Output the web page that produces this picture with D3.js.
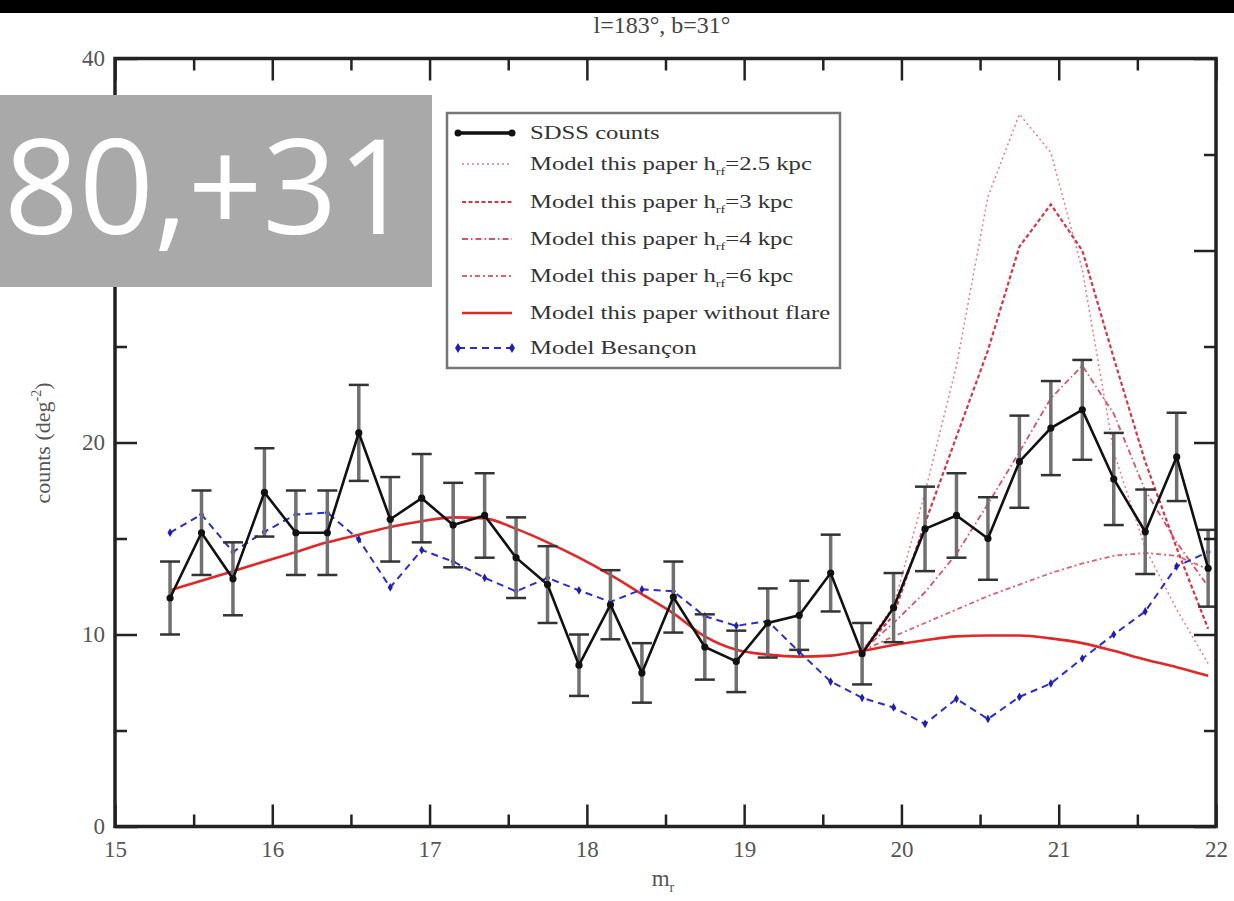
<!DOCTYPE html>
<html><head><meta charset="utf-8">
<script src="https://cdn.jsdelivr.net/npm/d3@7"></script>
<style>
html,body{margin:0;padding:0;background:#fff;}
svg{display:block;}
</style></head>
<body>
<svg id="c" width="1234" height="901"></svg>
<script>
// ---------- data ----------
const mags = [15.35,15.55,15.75,15.95,16.15,16.35,16.55,16.75,16.95,17.15,17.35,17.55,17.75,17.95,18.15,18.35,18.55,18.75,18.95,19.15,19.35,19.55,19.75,19.95,20.15,20.35,20.55,20.75,20.95,21.15,21.35,21.55,21.75,21.95];
const sdssCounts = [11.9,15.3,12.9,17.4,15.3,15.3,20.5,16.0,17.1,15.7,16.2,14.0,12.6,8.4,11.55,8.0,11.95,9.35,8.6,10.6,11.0,13.2,9.0,11.4,15.5,16.2,15.0,19.0,20.75,21.7,18.1,15.35,19.25,13.45];
const sdssErrors = [1.9,2.2,1.9,2.3,2.2,2.2,2.5,2.2,2.3,2.2,2.2,2.1,2.0,1.6,1.8,1.55,1.85,1.7,1.6,1.8,1.8,2.0,1.6,1.8,2.2,2.2,2.15,2.4,2.45,2.6,2.4,2.2,2.3,2.0];
const besancon = [15.3,16.25,14.3,15.35,16.25,16.35,14.95,12.45,14.4,13.8,12.95,12.25,12.95,12.3,11.7,12.35,12.25,10.95,10.45,10.7,9.1,7.55,6.7,6.2,5.35,6.65,5.6,6.75,7.45,8.75,10.0,11.2,13.55,14.3];
const noFlare = [12.3,12.8,13.3,13.8,14.3,14.8,15.2,15.6,15.9,16.1,16.05,15.5,14.8,14.0,13.1,12.1,11.1,9.9,9.2,8.95,8.85,8.9,9.15,9.45,9.7,9.9,9.95,9.95,9.8,9.55,9.15,8.7,8.3,7.85];
const flareMags = [19.75,19.95,20.15,20.35,20.55,20.75,20.95,21.15,21.35,21.55,21.75,21.95];
const flare25 = [9.15,11.5,17.4,24.0,32.8,37.1,35.1,29.0,19.5,14.5,11.3,8.5];
const flare3  = [9.15,11.0,15.8,20.3,24.8,30.2,32.4,30.0,24.4,19.0,14.5,10.3];
const flare4  = [9.15,10.6,12.2,14.2,16.8,19.5,22.3,24.0,21.5,17.5,14.8,12.5];
const flare6  = [9.15,9.9,10.6,11.3,12.0,12.6,13.2,13.7,14.1,14.25,14.1,13.4];
const xTicks = [15,16,17,18,19,20,21,22];
const yTicks = [0,10,20,30,40];
const yTicksHidden = [30]; // covered by the grey overlay box in the reference
const legendLabels = ["SDSS counts","Model this paper |=2.5 kpc","Model this paper |=3 kpc","Model this paper |=4 kpc","Model this paper |=6 kpc","Model this paper without flare","Model Besançon"];
const titleText = "l=183°, b=31°";
const overlayText = "80,+31";

// ---------- layout ----------
const SERIF = "'Liberation Serif','Times New Roman',serif";
const L=115, R=1216, T=58.5, B=826.5;
const x = d3.scaleLinear().domain([15,22]).range([L,R]);
const y = d3.scaleLinear().domain([0,40]).range([B,T]);
const svg = d3.select("#c");

// title
svg.append("text").attr("x",662).attr("y",33).attr("text-anchor","middle")
  .style("font-family",SERIF).style("font-size","24px").attr("fill","#444").text(titleText);

// clip
svg.append("clipPath").attr("id","clip").append("rect").attr("x",L).attr("y",T).attr("width",R-L).attr("height",B-T);
const plot = svg.append("g").attr("clip-path","url(#clip)");

// ---------- series ----------
const lineXY = (xs) => d3.line().x((d,i)=>x(xs[i])).y(d=>y(d));

const flareStyles = [
  {data:flare25, color:"#f07888", w:1.5, dash:"2,3"},
  {data:flare3,  color:"#d8344a", w:2.2, dash:"4,2.5"},
  {data:flare4,  color:"#e0506a", w:1.8, dash:"6,3,1.5,3"},
  {data:flare6,  color:"#e0606e", w:1.8, dash:"5,3,2,3"}
];
flareStyles.forEach(s=>{
  plot.append("path").datum(s.data).attr("d",lineXY(flareMags))
    .attr("fill","none").attr("stroke",s.color).attr("stroke-width",s.w).attr("stroke-dasharray",s.dash);
});

// no-flare solid
plot.append("path").datum(noFlare).attr("d",lineXY(mags).curve(d3.curveMonotoneX))
  .attr("fill","none").attr("stroke","#e02828").attr("stroke-width",2.6);

// Besancon
plot.append("path").datum(besancon).attr("d",lineXY(mags))
  .attr("fill","none").attr("stroke","#2a2ad8").attr("stroke-width",2).attr("stroke-dasharray","7,5");
plot.selectAll(".bm").data(besancon).enter().append("path")
  .attr("d",d3.symbol(d3.symbolDiamond,22))
  .attr("transform",(d,i)=>`translate(${x(mags[i])},${y(d)})`)
  .attr("fill","#1e1eb4");

// SDSS error bars
const eb = plot.append("g");
mags.forEach((m,i)=>{
  const cx=x(m), y1=y(sdssCounts[i]+sdssErrors[i]), y2=y(sdssCounts[i]-sdssErrors[i]);
  eb.append("line").attr("x1",cx).attr("x2",cx).attr("y1",y1).attr("y2",y2).attr("stroke","#707070").attr("stroke-width",3.5);
  [y1,y2].forEach(yy=>eb.append("line").attr("x1",cx-10).attr("x2",cx+10).attr("y1",yy).attr("y2",yy).attr("stroke","#333").attr("stroke-width",2.5));
});
plot.append("path").datum(sdssCounts).attr("d",lineXY(mags))
  .attr("fill","none").attr("stroke","#111").attr("stroke-width",2.6);
plot.selectAll(".sm").data(sdssCounts).enter().append("circle")
  .attr("cx",(d,i)=>x(mags[i])).attr("cy",d=>y(d)).attr("r",3.6).attr("fill","#111");

// ---------- axes ----------
const axG = svg.append("g");
function styleAxis(g){ g.select(".domain").remove(); g.selectAll("line").attr("stroke","#222").attr("stroke-width",2.5); g.selectAll("text").style("font-family",SERIF).style("font-size","23px").attr("fill","#555"); }
const minorX = d3.range(15.5,22,1), minorY = d3.range(5,40,10);
axG.append("g").attr("transform",`translate(0,${B})`).call(d3.axisBottom(x).tickValues(xTicks).tickFormat(d3.format("d")).tickSize(-22).tickPadding(14)).call(styleAxis);
axG.append("g").attr("transform",`translate(0,${B})`).call(d3.axisBottom(x).tickValues(minorX).tickFormat("").tickSize(-12)).call(styleAxis);
axG.append("g").attr("transform",`translate(0,${T})`).call(d3.axisTop(x).tickValues(xTicks).tickFormat("").tickSize(-22)).call(styleAxis);
axG.append("g").attr("transform",`translate(0,${T})`).call(d3.axisTop(x).tickValues(minorX).tickFormat("").tickSize(-12)).call(styleAxis);
axG.append("g").attr("transform",`translate(${L},0)`).call(d3.axisLeft(y).tickValues(yTicks).tickFormat(d=>yTicksHidden.includes(d)?"":d3.format("d")(d)).tickSize(-22).tickPadding(10)).call(styleAxis);
axG.append("g").attr("transform",`translate(${L},0)`).call(d3.axisLeft(y).tickValues(minorY).tickFormat("").tickSize(-12)).call(styleAxis);
axG.append("g").attr("transform",`translate(${R},0)`).call(d3.axisRight(y).tickValues(yTicks).tickFormat("").tickSize(-22)).call(styleAxis);
axG.append("g").attr("transform",`translate(${R},0)`).call(d3.axisRight(y).tickValues(minorY).tickFormat("").tickSize(-12)).call(styleAxis);
svg.append("rect").attr("x",L).attr("y",T).attr("width",R-L).attr("height",B-T).attr("fill","none").attr("stroke","#222").attr("stroke-width",3.5);

// axis labels
const xl = svg.append("text").attr("x",663).attr("y",886).attr("text-anchor","middle").style("font-family",SERIF).style("font-size","23px").attr("fill","#555");
xl.append("tspan").text("m");
xl.append("tspan").attr("dy",6).style("font-size","14px").text("r");
const yl = svg.append("text").attr("transform","translate(50,443) rotate(-90)").attr("text-anchor","middle").style("font-family",SERIF).style("font-size","22px").attr("fill","#555");
yl.append("tspan").text("counts (deg");
yl.append("tspan").attr("dy",-9).style("font-size","14px").text("-2");
yl.append("tspan").attr("dy",9).text(")");

// ---------- legend ----------
const lg = svg.append("g");
lg.append("rect").attr("x",447).attr("y",113).attr("width",393).attr("height",255).attr("fill","#fff").attr("stroke","#777").attr("stroke-width",2.5);
const rowsY = [133,164,202,239,276,313,348];
const sx1=458, sx2=512, tx=530;
lg.append("line").attr("x1",sx1).attr("x2",sx2).attr("y1",rowsY[0]).attr("y2",rowsY[0]).attr("stroke","#111").attr("stroke-width",3.5);
[sx1,sx2].forEach(px=>lg.append("circle").attr("cx",px).attr("cy",rowsY[0]).attr("r",3.5).attr("fill","#111"));
flareStyles.forEach((s,i)=>{
  lg.append("line").attr("x1",sx1+4).attr("x2",sx2).attr("y1",rowsY[i+1]).attr("y2",rowsY[i+1])
    .attr("stroke",s.color).attr("stroke-width",s.w).attr("stroke-dasharray",s.dash);
});
lg.append("line").attr("x1",sx1+4).attr("x2",sx2).attr("y1",rowsY[5]).attr("y2",rowsY[5]).attr("stroke","#e02828").attr("stroke-width",2.6);
lg.append("line").attr("x1",sx1).attr("x2",sx2).attr("y1",rowsY[6]).attr("y2",rowsY[6]).attr("stroke","#2a2ad8").attr("stroke-width",2).attr("stroke-dasharray","7,5");
[sx1,sx2].forEach(px=>lg.append("path").attr("d",d3.symbol(d3.symbolDiamond,30)).attr("transform",`translate(${px},${rowsY[6]})`).attr("fill","#1e1eb4"));
legendLabels.forEach((lab,i)=>{
  const t = lg.append("text").attr("x",tx).attr("y",rowsY[i]+6).style("font-family",SERIF).style("font-size","19px").attr("fill","#333")
    .attr("transform",`translate(${tx},0) scale(1.3,1) translate(${-tx},0)`);
  if(lab.includes("|")){
    const [a,b]=lab.split("|");
    t.append("tspan").text(a+"h");
    t.append("tspan").attr("dy",5).style("font-size","11px").text("rf");
    t.append("tspan").attr("dy",-5).text(b);
  } else t.text(lab);
});

// ---------- overlays ----------
svg.append("rect").attr("x",0).attr("y",0).attr("width",1234).attr("height",13).attr("fill","#000");
svg.append("rect").attr("x",0).attr("y",95).attr("width",432).attr("height",192).attr("fill","#a9a9a9");
svg.append("text").attr("x",4).attr("y",234).style("font-family","'Open Sans','Noto Sans',sans-serif")
  .style("font-size","131px").attr("fill","#fff").text(overlayText);
</script>
</body></html>
